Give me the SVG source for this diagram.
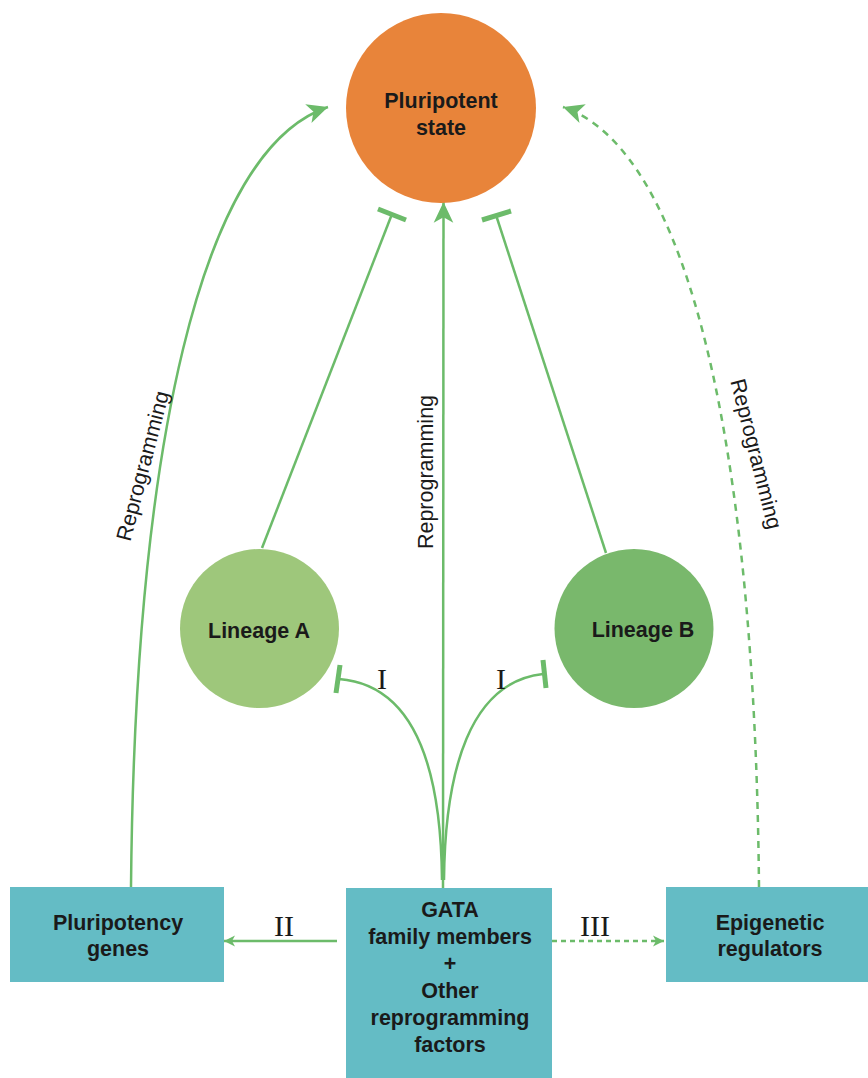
<svg xmlns="http://www.w3.org/2000/svg" width="868" height="1078" viewBox="0 0 868 1078">
<style>
.lbl{font-family:"Liberation Sans",Arial,sans-serif;font-weight:bold;font-size:21.5px;fill:#1a1a1a;text-anchor:middle}
.rep{font-family:"Liberation Sans",Arial,sans-serif;font-size:21.5px;fill:#1a1a1a;text-anchor:middle}
.rom{font-family:"Liberation Serif","Times New Roman",serif;font-size:30px;fill:#1a1a1a;text-anchor:middle}
.ln{fill:none;stroke:#6CBB6A;stroke-width:2.5}
.dash{stroke-dasharray:7 6}
.dot{stroke-dasharray:5 4}
.bar{stroke:#6CBB6A;stroke-width:5;fill:none}
.box{fill:#64BCC5}
</style>
<defs>
<marker id="ah" markerUnits="userSpaceOnUse" markerWidth="24" markerHeight="24" viewBox="-20 -10 22 20" refX="0" refY="0" orient="auto">
<path d="M0,0 L-19,-9 L-14,0 L-19,9 Z" fill="#6CBB6A"/>
</marker>
<marker id="ahs" markerUnits="userSpaceOnUse" markerWidth="14" markerHeight="14" viewBox="-12 -7 13 14" refX="0" refY="0" orient="auto">
<path d="M0,0 L-11,-5.5 L-8,0 L-11,5.5 Z" fill="#6CBB6A"/>
</marker>
</defs>
<g id="connectors">
<path class="ln" d="M131,887 C135,450 200,150 328,107" marker-end="url(#ah)"/>
<path class="ln dash" d="M759,887 C755,450 690,150 563,107" marker-end="url(#ah)"/>
<line class="ln" x1="443" y1="888" x2="443.5" y2="202" marker-end="url(#ah)"/>
<line class="ln" x1="262" y1="548" x2="392" y2="214"/>
<line class="bar" x1="378" y1="209" x2="406" y2="220"/>
<line class="ln" x1="606" y1="553" x2="496" y2="215"/>
<line class="bar" x1="482" y1="220" x2="511" y2="211"/>
<path class="ln" d="M442,880 C441,770 415,685 339,679"/>
<line class="bar" x1="340" y1="665" x2="336" y2="693"/>
<path class="ln" d="M444,880 C445,770 470,682 543,674"/>
<line class="bar" x1="543" y1="660" x2="546" y2="688"/>
<line class="ln" x1="337" y1="941" x2="224" y2="941" marker-end="url(#ahs)"/>
<line class="ln dot" x1="552" y1="941" x2="664" y2="941" marker-end="url(#ahs)"/>
<text class="rep" transform="translate(143,466) rotate(-75.3)" y="7">Reprogramming</text>
<text class="rep" transform="translate(425,472) rotate(-90)" y="8">Reprogramming</text>
<text class="rep" transform="translate(756,454) rotate(75.7)" y="7">Reprogramming</text>
<text class="rom" x="382" y="689">I</text>
<text class="rom" x="501" y="689">I</text>
<text class="rom" x="284" y="936">II</text>
<text class="rom" x="595" y="936">III</text>
</g>
<g id="pluripotent">
<circle cx="441" cy="108" r="95" fill="#E8843A"/>
<text class="lbl" x="441" y="108">Pluripotent</text>
<text class="lbl" x="441" y="135">state</text>
</g>
<g id="lineageA">
<circle cx="259.5" cy="628.5" r="79.5" fill="#9EC77B"/>
<text class="lbl" x="259" y="638">Lineage A</text>
</g>
<g id="lineageB">
<circle cx="634" cy="628.5" r="79.5" fill="#79B86C"/>
<text class="lbl" x="643" y="637">Lineage B</text>
</g>
<g id="pluripotency-genes">
<rect class="box" x="10" y="887" width="214" height="95"/>
<text class="lbl" x="118" y="930">Pluripotency</text>
<text class="lbl" x="118" y="956">genes</text>
</g>
<g id="gata">
<rect class="box" x="346" y="888" width="206" height="190"/>
<text class="lbl" x="450" y="917">GATA</text>
<text class="lbl" x="450" y="944">family members</text>
<text class="lbl" x="450" y="971">+</text>
<text class="lbl" x="450" y="998">Other</text>
<text class="lbl" x="450" y="1025">reprogramming</text>
<text class="lbl" x="450" y="1052">factors</text>
</g>
<g id="epigenetic">
<rect class="box" x="666" y="887" width="202" height="95"/>
<text class="lbl" x="770" y="930">Epigenetic</text>
<text class="lbl" x="770" y="956">regulators</text>
</g>
</svg>
